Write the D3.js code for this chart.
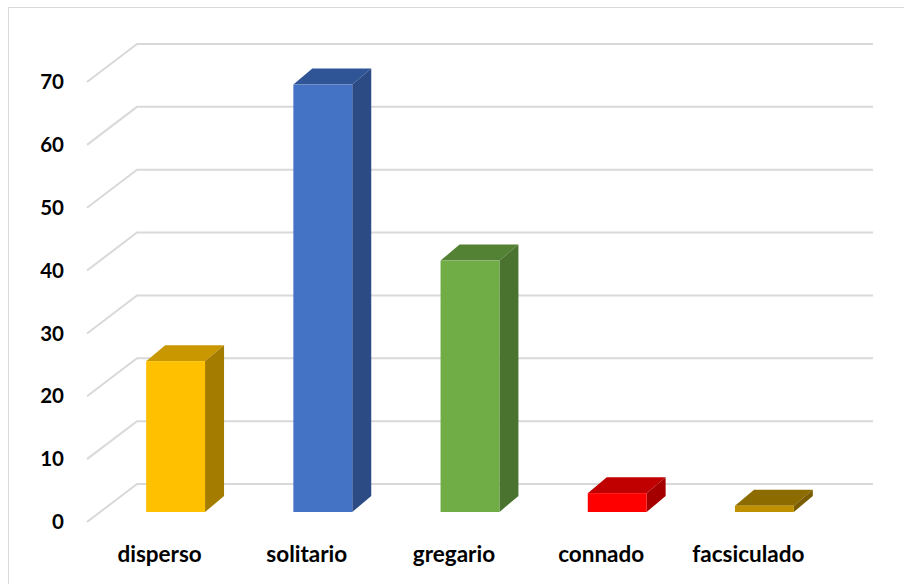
<!DOCTYPE html>
<html><head><meta charset="utf-8">
<script src="https://cdn.jsdelivr.net/npm/d3@7/dist/d3.min.js"></script>
<style>body{margin:0;background:#fff}svg{display:block}</style>
</head><body>
<svg id="c" width="904" height="584"></svg>
<script>
const categories = ["disperso","solitario","gregario","connado","facsiculado"];
const values = [24, 68, 40, 3, 1];
const frontColors = ["#FFC000","#4472C4","#70AD47","#FF0000","#BF9000"];
const topColors   = ["#C99700","#2F5597","#548235","#C00000","#8C6C00"];
const sideColors  = ["#A47C00","#2C4B85","#4B7330","#A50000","#7A5D00"];
const yTicks = [0,10,20,30,40,50,60,70];

const svg = d3.select("#c");
// chart border
svg.append("rect").attr("x",8.5).attr("y",7.5).attr("width",920).attr("height",600)
  .attr("fill","none").attr("stroke","#D9D9D9");

const frontLeft = 87, frontRight = 823, frontBase = 522;
const depthX = 50, depthY = 38;
const y = d3.scaleLinear().domain([0,70]).range([0, 440]);
const x = d3.scaleBand().domain(categories).range([frontLeft, frontRight])
  .paddingInner(0.6).paddingOuter(0.3);
const xl = d3.scaleBand().domain(categories).range([frontLeft, frontRight]);

// gridlines: left wall diagonal + back wall
const g = svg.append("g");
yTicks.forEach(t => {
  const yf = frontBase - y(t), yb = yf - depthY;
  g.append("path")
    .attr("d", `M${frontLeft},${yf}L${frontLeft+depthX},${yb}L${frontRight+depthX},${yb}`)
    .attr("fill","none").attr("stroke","#D9D9D9").attr("stroke-width",2);
});

// tick labels
svg.append("g").selectAll("text").data(yTicks).join("text")
  .attr("x",64).attr("y", d => frontBase - y(d)).attr("dy","0.35em")
  .attr("text-anchor","end")
  .style("font-family","Lato, 'Open Sans', sans-serif").style("font-weight","bold")
  .style("font-size","20.5px").attr("fill","#000").text(d => d);

// bars
const barOffX = 15, barBase = frontBase - 10, bdx = 19, bdy = 16;
const bars = svg.append("g");
categories.forEach((c,i) => {
  const x0 = x(c) + barOffX, w = x.bandwidth(), h = y(values[i]);
  const x1 = x0 + w, yt = barBase - h;
  bars.append("path").attr("d",`M${x0},${yt}L${x0+bdx},${yt-bdy}L${x1+bdx},${yt-bdy}L${x1},${yt}Z`)
    .attr("fill", topColors[i]);
  bars.append("path").attr("d",`M${x1},${yt}L${x1+bdx},${yt-bdy}L${x1+bdx},${barBase-bdy}L${x1},${barBase}Z`)
    .attr("fill", sideColors[i]);
  bars.append("rect").attr("x",x0).attr("y",yt).attr("width",w).attr("height",h)
    .attr("fill", frontColors[i]);
});

// category labels
svg.append("g").selectAll("text").data(categories).join("text")
  .attr("x", d => xl(d) + xl.bandwidth()/2 - 1).attr("y", 562)
  .attr("text-anchor","middle")
  .style("font-family","Lato, 'Open Sans', sans-serif").style("font-weight","bold")
  .style("font-size","22.5px").attr("fill","#000").text(d => d);
</script>
</body></html>
